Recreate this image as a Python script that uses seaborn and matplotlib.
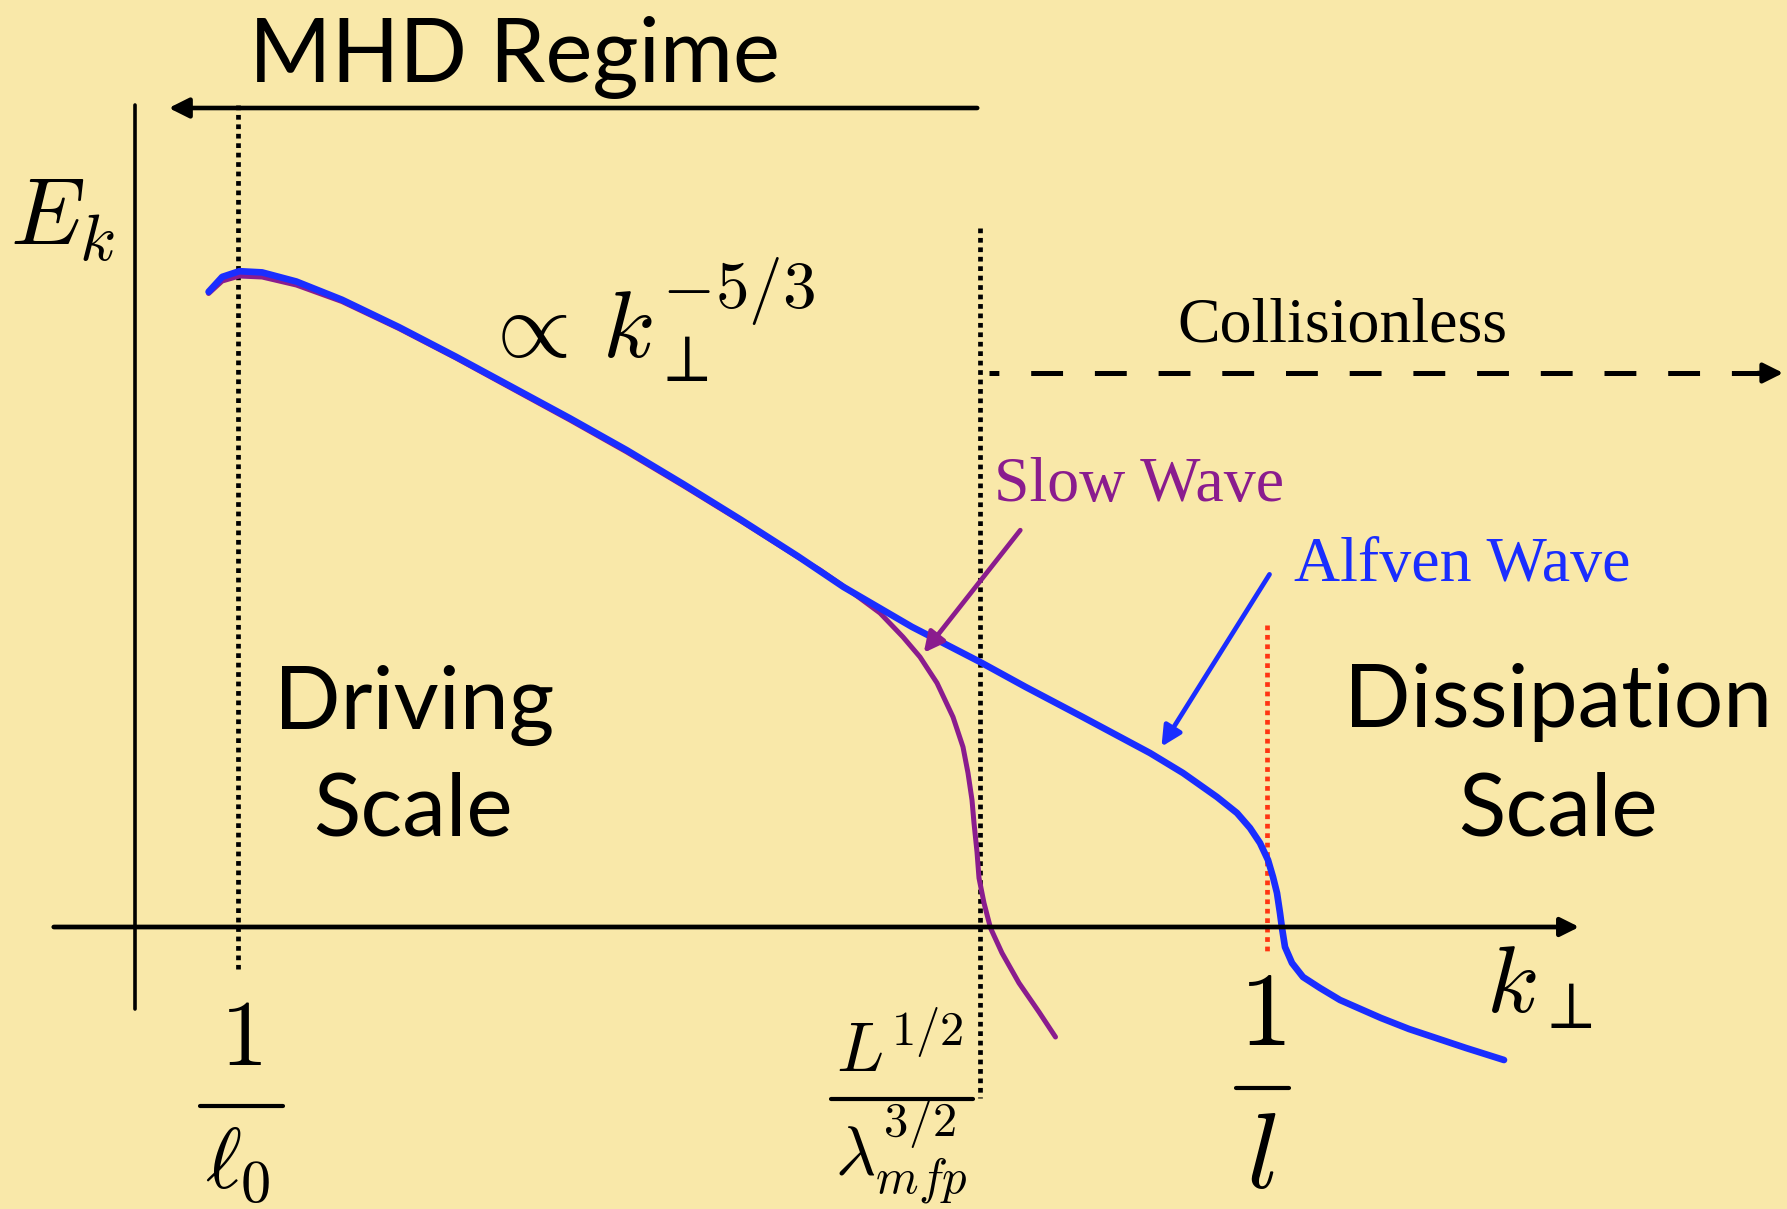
###### Libraries

import pandas as pd
import matplotlib
matplotlib.use("Agg")
import matplotlib.pyplot as plt
import seaborn as sns

###### Data (schematic in image pixels)

alfven_k = [208.6, 222.2, 239.3, 262.1, 296.3, 341.9, 398.9, 455.9, 512.9, 569.9,
            626.8, 683.8, 740.8, 797.8, 843.4, 911.8, 980.1, 1025.7, 1082.7, 1150,
            1183, 1217, 1237, 1250, 1260, 1268, 1273, 1277, 1280, 1282,
            1285, 1292, 1303, 1320, 1340, 1381, 1409, 1466, 1504]
alfven_E = [291.8, 276.9, 271.2, 272.4, 281.5, 299.7, 327.1, 356.7, 387.5, 418.3,
            450.2, 484.4, 519.7, 556.2, 586.9, 626.8, 662, 687, 717, 753,
            773, 797, 813, 828, 843, 860, 877, 893, 913, 928,
            947, 963, 977, 988, 1000, 1018, 1029, 1048, 1060]

slow_k = [208.6, 222.2, 239.3, 262.1, 296.3, 341.9, 398.9, 455.9, 512.9, 569.9,
          626.8, 683.8, 740.8, 797.8, 820, 853, 880, 903, 920, 937,
          953, 963, 968, 972, 974, 977, 979, 984, 990.5, 1002,
          1019, 1039, 1055.5]
slow_E = [293.5, 281.0, 276.0, 277.0, 285.0, 301.5, 328.5, 358.0, 389.0, 420.0,
          452.0, 486.0, 521.0, 557.0, 570, 593, 613, 637, 657, 683,
          717, 747, 773, 800, 823, 852, 878, 903, 928, 953,
          983, 1012, 1037]

# scale markers on the k axis
scale_x = [238, 980, 1267]
scale_top = [105, 228, 625]
scale_bottom = [969, 1098, 952]
scale_colors = ["black", "black", "#FF3512"]

num_labels = [r"$1$", r"$L^{1/2}$", r"$1$"]
den_labels = [r"$\ell_0$", r"$\lambda^{3/2}_{mfp}$", r"$l$"]

bg = "#F9E8A9"
blue = "#1A2DFF"
purple = "#8A1C8E"
serif = ["Liberation Serif", "DejaVu Serif"]

###### Plot

sns.set_theme(style="white")
plt.rcParams["font.family"] = ["Lato", "DejaVu Sans"]
plt.rcParams["mathtext.fontset"] = "cm"
plt.rcParams["text.color"] = "black"

fig = plt.figure(figsize=(17.87, 12.09), dpi=100)
fig.patch.set_facecolor(bg)
ax = fig.add_axes([0, 0, 1, 1])
ax.set_facecolor(bg)

# dotted scale lines
for x, t, b, c in zip(scale_x, scale_top, scale_bottom, scale_colors):
    ax.plot([x, x], [t, b], color=c, linewidth=3.4, linestyle=(0, (1, 1)))

# axes of the sketch
ax.plot([134.5, 134.5], [105, 1009], color="black", linewidth=2.6)
ax.annotate("", xy=(1582, 927), xytext=(51, 927),
            arrowprops=dict(arrowstyle="-|>", color="black", lw=3.4, mutation_scale=28))

# MHD regime arrow
ax.annotate("", xy=(166, 108), xytext=(980, 108),
            arrowprops=dict(arrowstyle="-|>", color="black", lw=3.3, mutation_scale=30))
ax.text(514, 82, "MHD Regime", fontsize=64, ha="center", va="baseline")

# collisionless arrow
ax.plot([989, 1762], [373, 373], color="black", linewidth=3.6, linestyle=(4.4, (6.37, 6.37)))
ax.annotate("", xy=(1786, 373), xytext=(1755, 373),
            arrowprops=dict(arrowstyle="-|>", color="black", lw=3.2, mutation_scale=30))
ax.text(1342, 342, "Collisionless", fontsize=46, ha="center", va="baseline", family=serif)

# spectra
slow = pd.DataFrame({"k": slow_k, "E": slow_E})
alfven = pd.DataFrame({"k": alfven_k, "E": alfven_E})
sns.lineplot(data=slow, x="k", y="E", sort=False, estimator=None, color=purple,
             linewidth=3.6, ax=ax)
sns.lineplot(data=alfven, x="k", y="E", sort=False, estimator=None, color=blue,
             linewidth=4.8, ax=ax)
ax.set_xlim(0, 1787)
ax.set_ylim(1209, 0)
ax.axis("off")

# wave labels + pointers
ax.text(994, 501, "Slow Wave", fontsize=46, color=purple, ha="left", va="baseline", family=serif)
ax.annotate("", xy=(922, 655), xytext=(1022, 528),
            arrowprops=dict(arrowstyle="-|>", color=purple, lw=3.4, mutation_scale=30))
ax.text(1294, 581, "Alfven Wave", fontsize=46, color=blue, ha="left", va="baseline", family=serif)
ax.annotate("", xy=(1160, 749), xytext=(1271, 572),
            arrowprops=dict(arrowstyle="-|>", color=blue, lw=3.4, mutation_scale=30))

# region labels
ax.text(414, 729, "Driving", fontsize=63, ha="center", va="baseline")
ax.text(413, 835, "Scale", fontsize=63, ha="center", va="baseline")
ax.text(1558, 727, "Dissipation", fontsize=63, ha="center", va="baseline")
ax.text(1558, 835, "Scale", fontsize=63, ha="center", va="baseline")

# scale labels as stacked fractions
ax.text(241, 1065, num_labels[0], fontsize=68, ha="center", va="baseline")
ax.plot([200, 283], [1106, 1106], color="black", linewidth=3.0)
ax.text(238, 1188, den_labels[0], fontsize=62, ha="center", va="baseline")

ax.text(900, 1072, num_labels[1], fontsize=50, ha="center", va="baseline")
ax.plot([831, 973], [1099, 1099], color="black", linewidth=3.0)
ax.text(901, 1177, den_labels[1], fontsize=50, ha="center", va="baseline")

ax.text(1262, 1045, num_labels[2], fontsize=76, ha="center", va="baseline")
ax.plot([1236, 1289], [1088, 1088], color="black", linewidth=3.0)
ax.text(1261, 1188, den_labels[2], fontsize=78, ha="center", va="baseline")

# math labels
ax.text(10, 245, r"$E_k$", fontsize=68, ha="left", va="baseline")
ax.text(480, 357, r"$\propto\, k_\perp^{-5/3}$", fontsize=69, ha="left", va="baseline")
ax.text(1486, 1013, r"$k_\perp$", fontsize=69, ha="left", va="baseline")

fig.savefig("out.png", dpi=100, facecolor=bg)
